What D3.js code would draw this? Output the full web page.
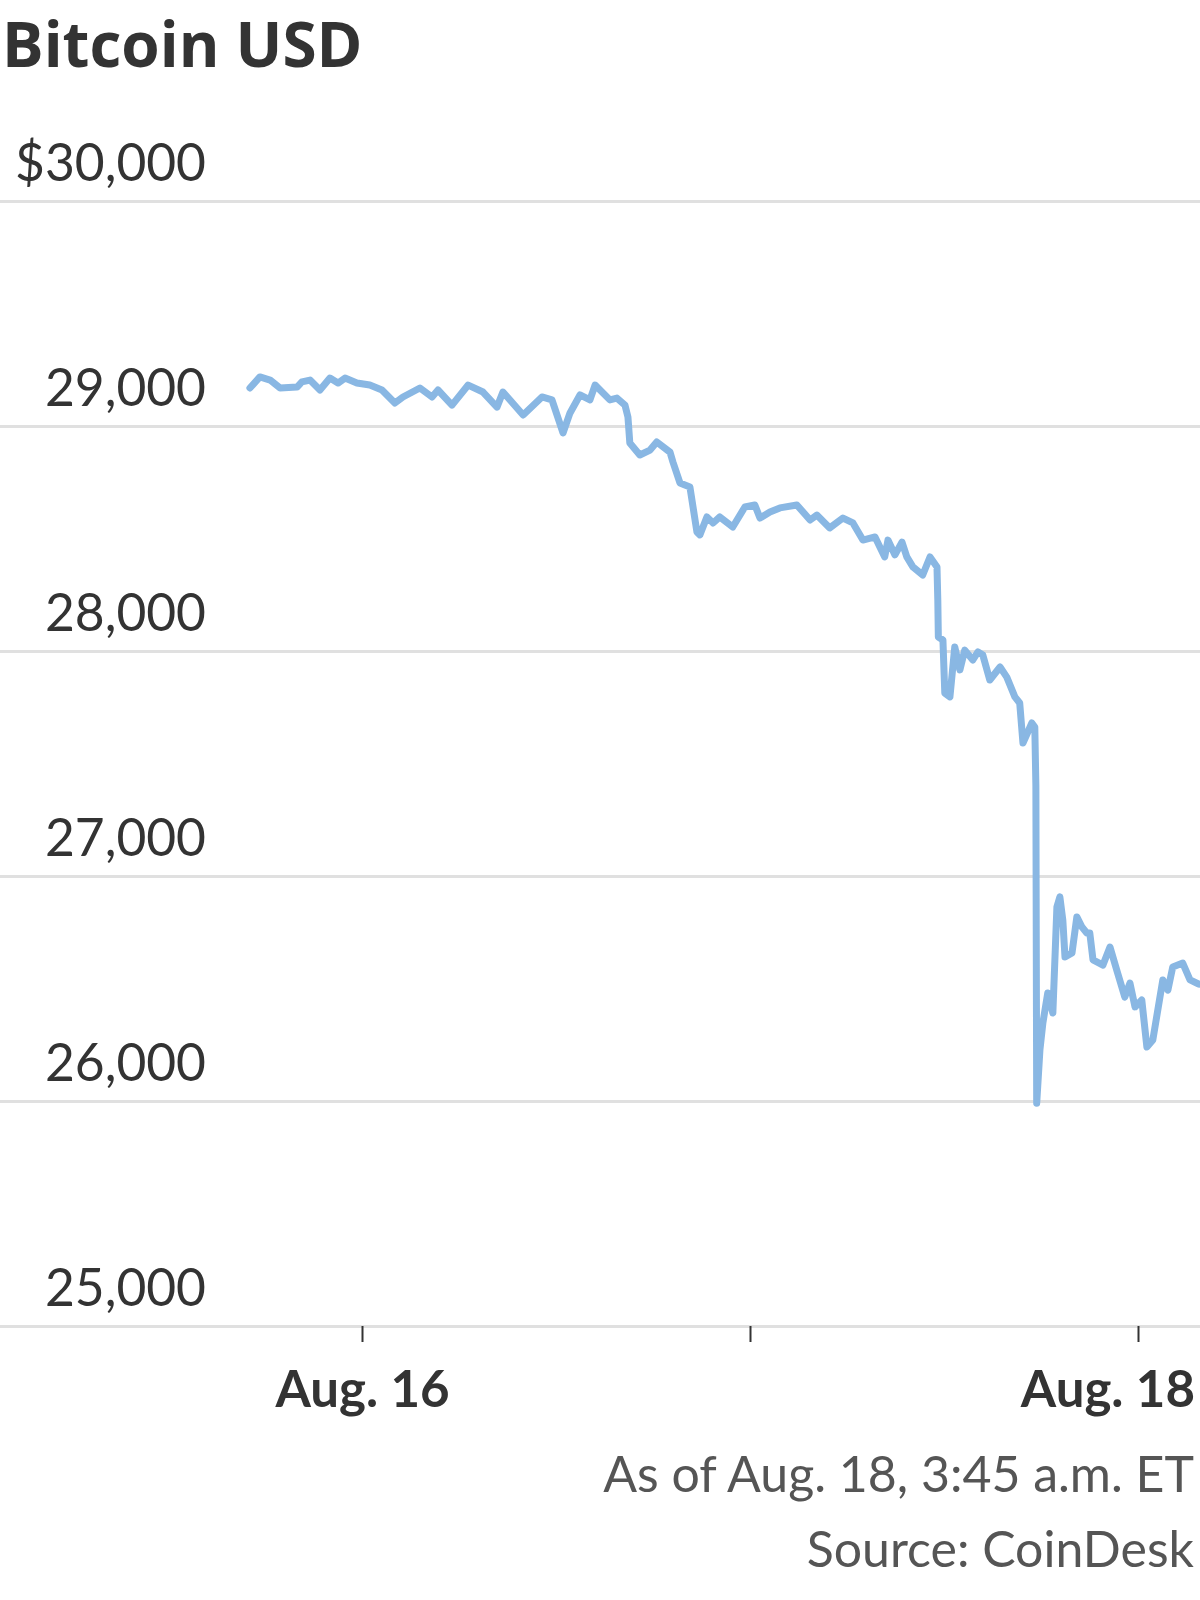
<!DOCTYPE html>
<html>
<head>
<meta charset="utf-8">
<script src="https://cdn.jsdelivr.net/npm/d3@7"></script>
<style>
  body { margin: 0; background: #fff; }
  svg { display: block; }
</style>
</head>
<body>
<div id="chart"></div>
<script>
// Bitcoin-Kurs in USD, 15.–18. August (ET)
const times = [
  "2023-08-15T17:04", "2023-08-15T17:41", "2023-08-15T18:19", "2023-08-15T18:56", "2023-08-15T19:59",
  "2023-08-15T20:17", "2023-08-15T20:47", "2023-08-15T21:24", "2023-08-15T22:01", "2023-08-15T22:31",
  "2023-08-15T22:57", "2023-08-15T23:41", "2023-08-16T00:29", "2023-08-16T01:14", "2023-08-16T02:02",
  "2023-08-16T02:32", "2023-08-16T03:35", "2023-08-16T04:20", "2023-08-16T04:42", "2023-08-16T05:34",
  "2023-08-16T06:34", "2023-08-16T07:29", "2023-08-16T08:21", "2023-08-16T08:43", "2023-08-16T09:58",
  "2023-08-16T11:08", "2023-08-16T11:45", "2023-08-16T12:26", "2023-08-16T12:52", "2023-08-16T13:29",
  "2023-08-16T14:06", "2023-08-16T14:25", "2023-08-16T15:20", "2023-08-16T15:46", "2023-08-16T16:16",
  "2023-08-16T16:27", "2023-08-16T16:34", "2023-08-16T17:11", "2023-08-16T17:49", "2023-08-16T18:14",
  "2023-08-16T19:03", "2023-08-16T19:14", "2023-08-16T19:40", "2023-08-16T20:17", "2023-08-16T20:43",
  "2023-08-16T20:54", "2023-08-16T21:20", "2023-08-16T21:43", "2023-08-16T22:08", "2023-08-16T22:56",
  "2023-08-16T23:41", "2023-08-17T00:18", "2023-08-17T00:37", "2023-08-17T01:14", "2023-08-17T01:51",
  "2023-08-17T02:54", "2023-08-17T03:43", "2023-08-17T04:08", "2023-08-17T04:56", "2023-08-17T05:45",
  "2023-08-17T06:22", "2023-08-17T06:59", "2023-08-17T07:44", "2023-08-17T08:20", "2023-08-17T08:32",
  "2023-08-17T08:58", "2023-08-17T09:24", "2023-08-17T09:42", "2023-08-17T10:05", "2023-08-17T10:41",
  "2023-08-17T11:08", "2023-08-17T11:34", "2023-08-17T11:37", "2023-08-17T11:39", "2023-08-17T11:56",
  "2023-08-17T12:03", "2023-08-17T12:22", "2023-08-17T12:40", "2023-08-17T12:59", "2023-08-17T13:17",
  "2023-08-17T13:47", "2023-08-17T14:06", "2023-08-17T14:24", "2023-08-17T14:50", "2023-08-17T15:28",
  "2023-08-17T15:53", "2023-08-17T16:23", "2023-08-17T16:41", "2023-08-17T16:53", "2023-08-17T17:26",
  "2023-08-17T17:37", "2023-08-17T17:41", "2023-08-17T17:44", "2023-08-17T17:56", "2023-08-17T18:07",
  "2023-08-17T18:25", "2023-08-17T18:44", "2023-08-17T18:59", "2023-08-17T19:10", "2023-08-17T19:21",
  "2023-08-17T19:29", "2023-08-17T19:55", "2023-08-17T20:13", "2023-08-17T20:32", "2023-08-17T20:50",
  "2023-08-17T21:01", "2023-08-17T21:13", "2023-08-17T21:50", "2023-08-17T22:16", "2023-08-17T22:41",
  "2023-08-17T23:11", "2023-08-17T23:30", "2023-08-17T23:49", "2023-08-18T00:14", "2023-08-18T00:33",
  "2023-08-18T00:55", "2023-08-18T01:32", "2023-08-18T01:51", "2023-08-18T02:09", "2023-08-18T02:46",
  "2023-08-18T03:13", "2023-08-18T03:45"
];

const prices = [
  29169, 29218, 29204, 29169, 29173,
  29196, 29204, 29160, 29213, 29191,
  29213, 29191, 29182, 29160, 29102,
  29129, 29169, 29129, 29160, 29093,
  29182, 29151, 29084, 29151, 29049,
  29129, 29116, 28969, 29058, 29138,
  29116, 29182, 29116, 29124, 29093,
  29040, 28924, 28871, 28893, 28929,
  28884, 28840, 28747, 28729, 28529,
  28516, 28596, 28569, 28596, 28551,
  28640, 28649, 28591, 28618, 28636,
  28649, 28582, 28604, 28547, 28591,
  28569, 28493, 28507, 28418, 28493,
  28427, 28484, 28418, 28373, 28338,
  28418, 28373, 28227, 28062, 28049,
  27813, 27796, 28018, 27916, 28004,
  27960, 27996, 27982, 27871, 27929,
  27884, 27796, 27769, 27591, 27680,
  27662, 27400, 25990, 26227, 26347,
  26480, 26391, 26862, 26907, 26804,
  26640, 26658, 26818, 26773, 26747,
  26747, 26627, 26604, 26684, 26582,
  26462, 26524, 26418, 26449, 26240,
  26271, 26538, 26493, 26596, 26613,
  26538, 26520
];

const yTicks = [25000, 26000, 27000, 28000, 29000, 30000];
const xTicks = ["2023-08-16T00:00", "2023-08-17T00:00", "2023-08-18T00:00"];
const xTickLabels = ["Aug. 16", "", "Aug. 18"];

const title = "Bitcoin USD";
const notes = ["As of Aug. 18, 3:45 a.m. ET", "Source: CoinDesk"];

const W = 1200, H = 1600;
const parse = d3.timeParse("%Y-%m-%dT%H:%M");
const data = times.map((t, i) => ({date: parse(t), value: prices[i]}));
const tickDates = xTicks.map(parse);

const svg = d3.select("#chart").append("svg")
    .attr("width", W)
    .attr("height", H);

const x = d3.scaleTime()
    .domain([tickDates[0], tickDates[2]])
    .range([362, 1138]);

const y = d3.scaleLinear()
    .domain([25000, 30000])
    .range([1326, 201]);

svg.append("text")
    .attr("x", 2)
    .attr("y", 67)
    .attr("font-family", "'Open Sans', sans-serif")
    .attr("font-weight", 700)
    .attr("font-size", 62)
    .attr("fill", "#333")
    .text(title);

// Gitterlinien + Beschriftung links
const yAxis = svg.append("g")
    .call(d3.axisRight(y)
        .tickValues(yTicks)
        .tickSize(W)
        .tickFormat(d => (d === 30000 ? "$" : "") + d3.format(",")(d)));

yAxis.select(".domain").remove();
yAxis.selectAll(".tick line")
    .attr("stroke", "#e0e0e0")
    .attr("stroke-width", 3);
yAxis.selectAll(".tick text")
    .attr("x", 206)
    .attr("dy", -21)
    .attr("text-anchor", "end")
    .attr("font-family", "Lato, sans-serif")
    .attr("font-size", 51.5)
    .attr("fill", "#333");

// x-Achse
const xAxis = svg.append("g")
    .attr("transform", `translate(0,${y(25000)})`)
    .call(d3.axisBottom(x)
        .tickValues(tickDates)
        .tickSize(16)
        .tickFormat((d, i) => xTickLabels[i]));

xAxis.select(".domain").remove();
xAxis.selectAll(".tick line")
    .attr("stroke", "#333")
    .attr("stroke-width", 2);
xAxis.selectAll(".tick text")
    .attr("y", 81)
    .attr("dy", 0)
    .attr("font-family", "Lato, sans-serif")
    .attr("font-weight", 700)
    .attr("font-size", 51)
    .attr("fill", "#333")
    .each(function() {
        // Label am rechten Rand nicht abschneiden
        const box = this.getBBox();
        const tx = +this.parentNode.getAttribute("transform").match(/translate\(([^,]+)/)[1];
        const overflow = tx + box.x + box.width - (W - 5);
        if (overflow > 0) d3.select(this).attr("x", -overflow);
    });

const line = d3.line()
    .x(d => x(d.date))
    .y(d => y(d.value));

svg.append("path")
    .datum(data)
    .attr("fill", "none")
    .attr("stroke", "#89b7e3")
    .attr("stroke-width", 7)
    .attr("stroke-linejoin", "round")
    .attr("stroke-linecap", "round")
    .attr("d", line);

svg.selectAll(".note")
    .data(notes)
    .enter().append("text")
    .attr("class", "note")
    .attr("x", 1194)
    .attr("y", (d, i) => 1492 + i * 75)
    .attr("text-anchor", "end")
    .attr("font-family", "Lato, sans-serif")
    .attr("font-size", 50)
    .attr("fill", "#555")
    .text(d => d);
</script>
</body>
</html>
